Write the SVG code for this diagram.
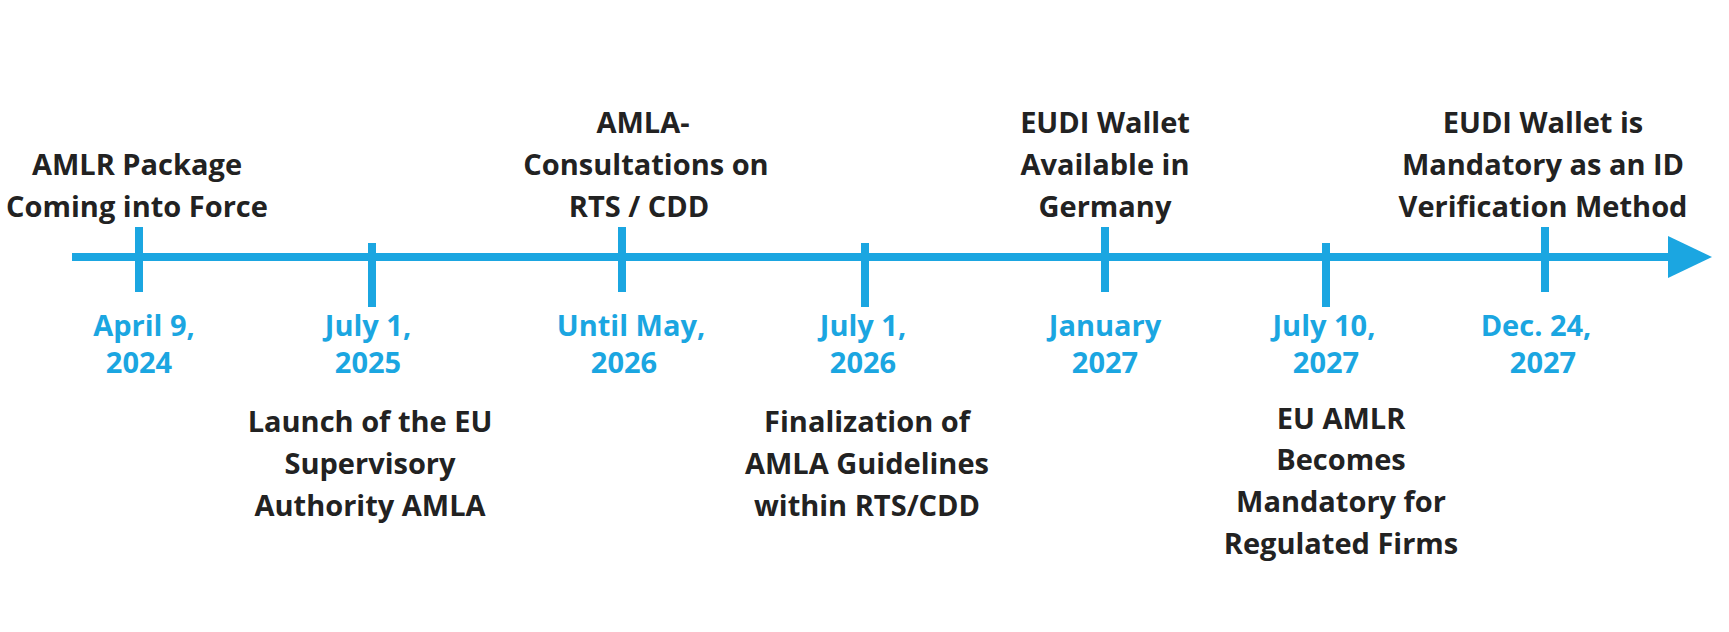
<svg xmlns="http://www.w3.org/2000/svg" width="1729" height="632" viewBox="0 0 1729 632">
<style>
.t{font-family:"Open Sans","Liberation Sans",sans-serif;font-weight:bold;font-size:29px;fill:#222;text-anchor:middle}
.d{font-family:"Open Sans","Liberation Sans",sans-serif;font-weight:bold;font-size:29px;fill:#1ba6e1;text-anchor:middle}
.l{stroke:#1ba6e1;stroke-width:8;fill:none}
</style>
<rect width="1729" height="632" fill="#fff"/>
<g id="connectors">
<line class="l" x1="72" y1="257" x2="1675" y2="257"/>
<polygon points="1668,236 1712,257 1668,278" fill="#1ba6e1"/>
<line class="l" x1="139" y1="227" x2="139" y2="292"/>
<line class="l" x1="372" y1="243" x2="372" y2="307"/>
<line class="l" x1="622" y1="227" x2="622" y2="292"/>
<line class="l" x1="865" y1="243" x2="865" y2="307"/>
<line class="l" x1="1105" y1="227" x2="1105" y2="292"/>
<line class="l" x1="1326" y1="243" x2="1326" y2="307"/>
<line class="l" x1="1545" y1="227" x2="1545" y2="292"/>
</g>
<g id="n1"><text class="t" x="137" y="175">AMLR Package</text><text class="t" x="137" y="217">Coming into Force</text><text class="d" x="144" y="336">April 9,</text><text class="d" x="139" y="373">2024</text></g>
<g id="n2"><text class="d" x="368" y="336">July 1,</text><text class="d" x="368" y="373">2025</text><text class="t" x="370" y="432">Launch of the EU</text><text class="t" x="370" y="474">Supervisory</text><text class="t" x="370" y="516">Authority AMLA</text></g>
<g id="n3"><text class="t" x="643" y="133">AMLA-</text><text class="t" x="646" y="175">Consultations on</text><text class="t" x="639" y="217">RTS / CDD</text><text class="d" x="631" y="336">Until May,</text><text class="d" x="624" y="373">2026</text></g>
<g id="n4"><text class="d" x="863" y="336">July 1,</text><text class="d" x="863" y="373">2026</text><text class="t" x="867" y="432">Finalization of</text><text class="t" x="867" y="474">AMLA Guidelines</text><text class="t" x="867" y="516">within RTS/CDD</text></g>
<g id="n5"><text class="t" x="1105" y="133">EUDI Wallet</text><text class="t" x="1105" y="175">Available in</text><text class="t" x="1105" y="217">Germany</text><text class="d" x="1105" y="336">January</text><text class="d" x="1105" y="373">2027</text></g>
<g id="n6"><text class="d" x="1324" y="336">July 10,</text><text class="d" x="1326" y="373">2027</text><text class="t" x="1341" y="429">EU AMLR</text><text class="t" x="1341" y="470">Becomes</text><text class="t" x="1341" y="512">Mandatory for</text><text class="t" x="1341" y="554">Regulated Firms</text></g>
<g id="n7"><text class="t" x="1543" y="133">EUDI Wallet is</text><text class="t" x="1543" y="175">Mandatory as an ID</text><text class="t" x="1543" y="217">Verification Method</text><text class="d" x="1536" y="336">Dec. 24,</text><text class="d" x="1543" y="373">2027</text></g>
</svg>
